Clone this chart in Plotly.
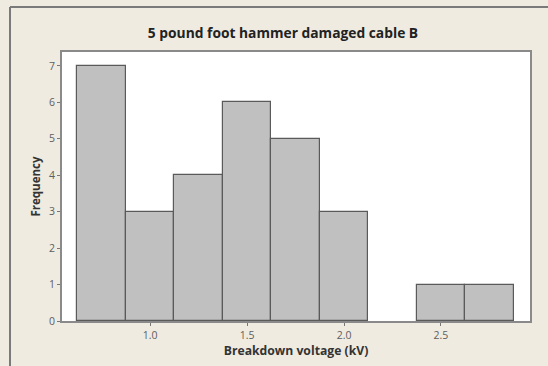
import plotly.graph_objects as go

# Histogram of breakdown voltages: bin midpoints (kV) and counts
bin_centers = [0.75, 1.00, 1.25, 1.50, 1.75, 2.00, 2.25, 2.50, 2.75]
frequencies = [7, 3, 4, 6, 5, 3, 0, 1, 1]
bin_width = 0.25
x_ticks = [1.0, 1.5, 2.0, 2.5]
x_tick_labels = ["1.0", "1.5", "2.0", "2.5"]
y_ticks = [0, 1, 2, 3, 4, 5, 6, 7]

W, H = 548, 366
L, R, T, B = 62, 18, 52, 45
BG = "#EFEBE1"

# empty bins get no outline so nothing is drawn on the baseline
edge_widths = [1.2 if f > 0 else 0 for f in frequencies]

fig = go.Figure()
fig.add_trace(go.Bar(
    x=bin_centers,
    y=frequencies,
    width=bin_width,
    marker=dict(color="#C0C0C0", line=dict(color="#5A5A5A", width=edge_widths)),
    hoverinfo="x+y",
))

pw = W - L - R
ph = H - T - B
# outer frame of the graph window (left and top edges visible)
fig.add_shape(type="line", xref="paper", yref="paper",
              x0=(10 - L) / pw, x1=(W + 5 - L) / pw,
              y0=(H - 7 - B) / ph, y1=(H - 7 - B) / ph,
              line=dict(color="#7A7A7A", width=2))
fig.add_shape(type="line", xref="paper", yref="paper",
              x0=(10 - L) / pw, x1=(10 - L) / pw,
              y0=(H - 7 - B) / ph, y1=-B / ph - 0.05,
              line=dict(color="#7A7A7A", width=2))

fig.update_layout(
    width=W, height=H,
    margin=dict(l=L, r=R, t=T, b=B),
    paper_bgcolor=BG,
    plot_bgcolor="white",
    showlegend=False,
    bargap=0,
    title=dict(text="<b>5 pound foot hammer damaged cable B</b>",
               x=283 / W, xanchor="center", y=1 - 33 / H, yanchor="middle",
               font=dict(family="Open Sans", size=13.8, color="#222222")),
    font=dict(family="Open Sans", color="#555555"),
)
fig.update_xaxes(
    range=[0.546, 2.959],
    tickvals=x_ticks, ticktext=x_tick_labels,
    ticks="outside", ticklen=3, tickcolor="#777777",
    tickfont=dict(size=10.5, color="#5E5E5E"),
    showgrid=False, zeroline=False,
    showline=True, linecolor="#8A8A8A", linewidth=2, mirror=True,
    title=dict(text="<b>Breakdown voltage (kV)</b>", standoff=3,
               font=dict(size=12.2, color="#333333")),
)
fig.update_yaxes(
    range=[0, 7.38],
    tickvals=y_ticks,
    ticks="outside", ticklen=3, tickcolor="#777777",
    tickfont=dict(size=10.5, color="#5E5E5E"),
    showgrid=False, zeroline=False,
    showline=True, linecolor="#8A8A8A", linewidth=2, mirror=True,
    title=dict(text="<b>Frequency</b>", standoff=6,
               font=dict(size=11.5, color="#333333")),
)

fig.write_html("out.html")
